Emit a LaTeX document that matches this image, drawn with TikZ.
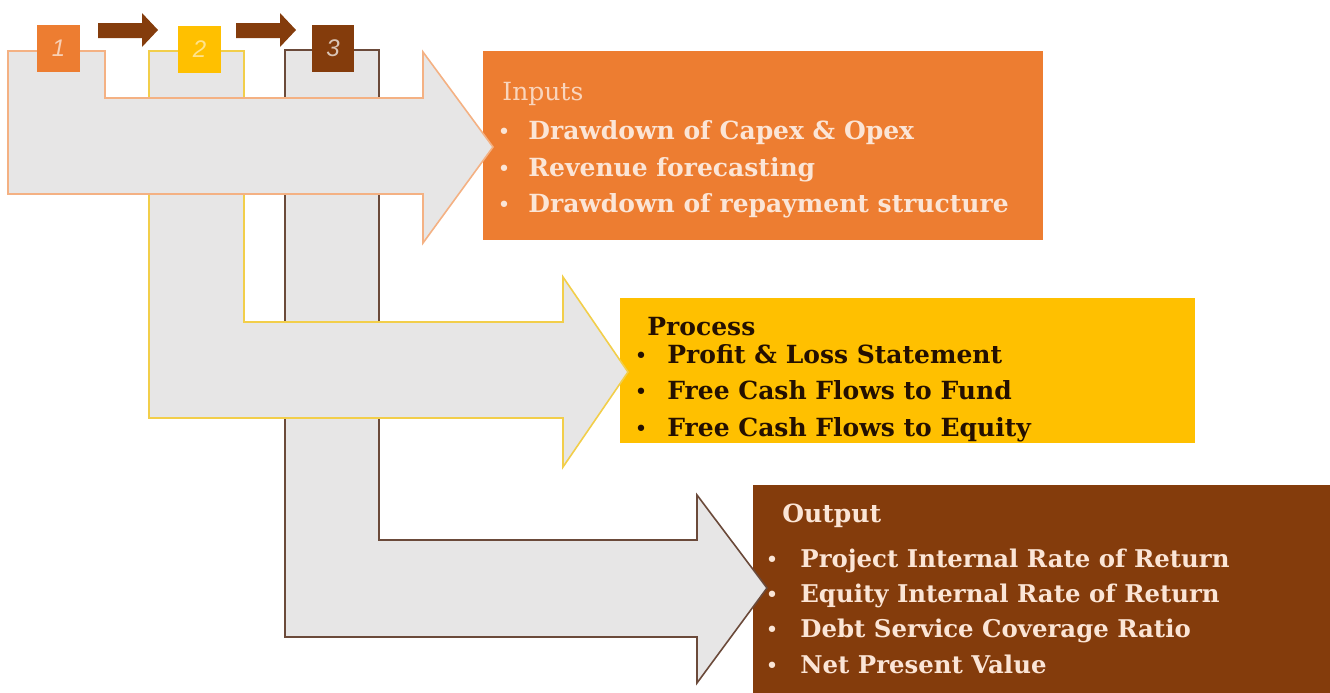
\documentclass[tikz,border=0pt]{standalone}
\usepackage{fontspec}
\setmainfont{DejaVu Serif}
\newfontfamily\numfont{Liberation Sans}
\definecolor{orangeC}{HTML}{ED7D31}
\definecolor{yellowC}{HTML}{FFC000}
\definecolor{brownC}{HTML}{843C0C}
\definecolor{greyF}{HTML}{E7E6E6}
\definecolor{lightT}{HTML}{FBE5D6}
\definecolor{darkT}{HTML}{241000}
\definecolor{lineO}{HTML}{F4B183}
\definecolor{lineY}{HTML}{F2CE4A}
\definecolor{lineB}{HTML}{6B4A3A}
\begin{document}
\begin{tikzpicture}[x=0.5pt,y=-0.5pt,
  bigarrow/.style={fill=greyF, line width=0.8pt, line join=miter},
  smallarrow/.style={fill=brownC, draw=none},
  numbox/.style={draw=none, minimum width=21.5pt, minimum height=23.5pt, inner sep=0pt},
  numtxt/.style={font=\numfont\itshape\fontsize{12}{14}\selectfont},
  textbox/.style={draw=none, inner sep=0pt},
  ttl/.style={anchor=base west, inner sep=0pt, font=\fontsize{12.5}{15}\selectfont},
  itm/.style={anchor=base west, inner sep=0pt, font=\fontsize{12.5}{15}\selectfont\bfseries},
  bul/.style={anchor=base, inner sep=0pt, font=\fontsize{11}{15}\selectfont}
]
\useasboundingbox (0,0) rectangle (1330,692);

% text boxes
\node[textbox, fill=orangeC, minimum width=280pt, minimum height=94.5pt] (inputs) at (763,145.5) {};
\node[textbox, fill=yellowC, minimum width=287.5pt, minimum height=72.5pt] (process) at (907.5,370.5) {};
\node[textbox, fill=brownC, minimum width=289pt, minimum height=104pt] (output) at (1042,589) {};

% big arrows (3 below 2 below 1)
\draw[bigarrow, draw=lineB] (285,50) -- (379,50) -- (379,540) -- (697,540) -- (697,495) -- (767,588) -- (697,683) -- (697,637) -- (285,637) -- cycle;
\draw[bigarrow, draw=lineY] (149,51) -- (244,51) -- (244,322) -- (563,322) -- (563,277) -- (628,372) -- (563,467) -- (563,418) -- (149,418) -- cycle;
\draw[bigarrow, draw=lineO] (8,51) -- (105,51) -- (105,98) -- (423,98) -- (423,52) -- (493,147) -- (423,243) -- (423,194) -- (8,194) -- cycle;

% numbered boxes
\node[numbox, fill=orangeC] (n1) at (58.5,48.5) {};
\node[numbox, fill=yellowC] (n2) at (199.5,49) {};
\node[numbox, fill=brownC, minimum width=21pt] (n3) at (333,48.5) {};
\node[numtxt, text=lineO!60!white] at (n1) {1};
\node[numtxt, text=yellowC!45!white] at (n2) {2};
\node[numtxt, text=brownC!30!white] at (n3) {3};

% small arrows between the numbered boxes
\fill[smallarrow] (98,23) -- (142,23) -- (142,13) -- (158,30) -- (142,47) -- (142,38) -- (98,38) -- cycle;
\fill[smallarrow] (236,23) -- (280,23) -- (280,13) -- (296,30) -- (280,47) -- (280,38) -- (236,38) -- cycle;

% Inputs text
\node[ttl, text=lightT!85!orangeC] (inT) at (502,100) {Inputs};
\node[bul, text=lightT] (inB1) at (504,139) {\textbullet};
\node[itm, text=lightT] (inI1) at (528,139) {Drawdown of Capex \& Opex};
\node[bul, text=lightT] (inB2) at (504,176) {\textbullet};
\node[itm, text=lightT] (inI2) at (528,176) {Revenue forecasting};
\node[bul, text=lightT] (inB3) at (504,212) {\textbullet};
\node[itm, text=lightT] (inI3) at (528,212) {Drawdown of repayment structure};

% Process text
\node[ttl, text=darkT, font=\fontsize{12.5}{15}\selectfont\bfseries] (prT) at (647,335) {Process};
\node[bul, text=darkT] (prB1) at (641,363) {\textbullet};
\node[itm, text=darkT] (prI1) at (667,363) {Profit \& Loss Statement};
\node[bul, text=darkT] (prB2) at (641,399) {\textbullet};
\node[itm, text=darkT] (prI2) at (667,399) {Free Cash Flows to Fund};
\node[bul, text=darkT] (prB3) at (641,436) {\textbullet};
\node[itm, text=darkT] (prI3) at (667,436) {Free Cash Flows to Equity};

% Output text
\node[ttl, text=lightT, font=\fontsize{12.5}{15}\selectfont\bfseries] (ouT) at (782,522) {Output};
\node[bul, text=lightT] (ouB1) at (772,567) {\textbullet};
\node[itm, text=lightT, font=\fontsize{12.2}{15}\selectfont\bfseries] (ouI1) at (800,567) {Project Internal Rate of Return};
\node[bul, text=lightT] (ouB2) at (772,602) {\textbullet};
\node[itm, text=lightT, font=\fontsize{12.2}{15}\selectfont\bfseries] (ouI2) at (800,602) {Equity Internal Rate of Return};
\node[bul, text=lightT] (ouB3) at (772,637) {\textbullet};
\node[itm, text=lightT, font=\fontsize{12.2}{15}\selectfont\bfseries] (ouI3) at (800,637) {Debt Service Coverage Ratio};
\node[bul, text=lightT] (ouB4) at (772,673) {\textbullet};
\node[itm, text=lightT, font=\fontsize{12.2}{15}\selectfont\bfseries] (ouI4) at (800,673) {Net Present Value};
\end{tikzpicture}
\end{document}
